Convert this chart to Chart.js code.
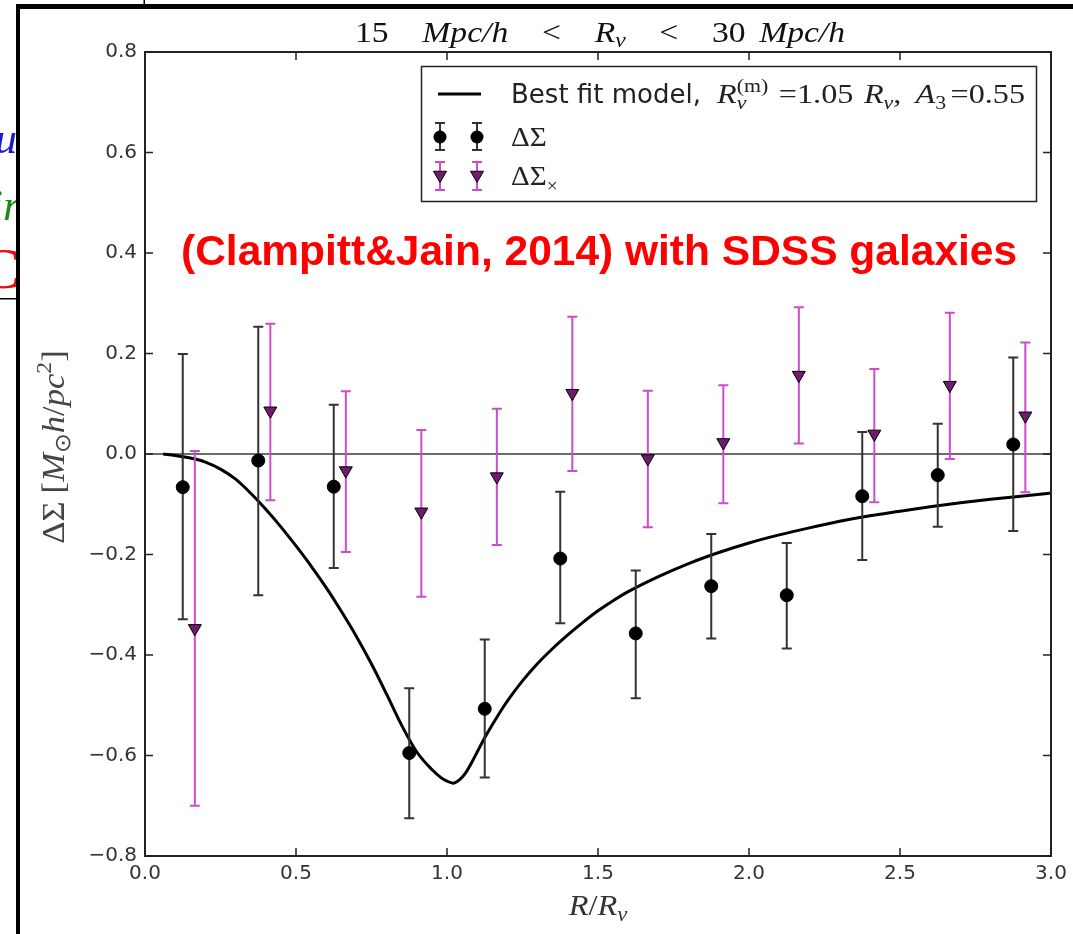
<!DOCTYPE html>
<html><head><meta charset="utf-8">
<script src="https://cdn.jsdelivr.net/npm/chart.js@4.4.1/dist/chart.umd.min.js"></script>
<style>html,body{margin:0;padding:0;background:#fff;overflow:hidden}canvas{display:block}</style>
</head><body>
<canvas id="c" width="1073" height="934"></canvas>
<script>
// ---------- data ----------
const xTickLabels = ['0.0','0.5','1.0','1.5','2.0','2.5','3.0'];
const yTickLabels = ['\u22120.8','\u22120.6','\u22120.4','\u22120.2','0.0','0.2','0.4','0.6','0.8'];

const binR   = [0.125,0.375,0.625,0.875,1.125,1.375,1.625,1.875,2.125,2.375,2.625,2.875];
const deltaSigma = [-0.066,-0.013,-0.065,-0.595,-0.507,-0.208,-0.357,-0.263,-0.281,-0.084,-0.042,0.019];
const dsLow  = [-0.329,-0.281,-0.227,-0.725,-0.644,-0.337,-0.486,-0.367,-0.387,-0.211,-0.145,-0.153];
const dsHigh = [0.199,0.253,0.098,-0.466,-0.369,-0.075,-0.232,-0.159,-0.177,0.044,0.060,0.192];

const crossR = [0.165,0.415,0.665,0.915,1.165,1.415,1.665,1.915,2.165,2.415,2.665,2.915];
const dsCross   = [-0.347,0.086,-0.033,-0.115,-0.045,0.121,-0.009,0.023,0.157,0.040,0.137,0.076];
const crossLow  = [-0.700,-0.092,-0.195,-0.284,-0.181,-0.034,-0.146,-0.098,0.021,-0.096,-0.010,-0.076];
const crossHigh = [0.006,0.259,0.125,0.048,0.090,0.273,0.126,0.137,0.292,0.169,0.281,0.222];

const modelR = [0.06,0.1,0.15,0.2,0.25,0.3,0.35,0.4,0.45,0.5,0.55,0.6,0.65,0.7,0.75,0.8,0.85,0.9,0.95,0.98,1.0,1.02,1.04,1.06,1.08,1.1,1.12,1.15,1.186,1.22,1.252,1.3,1.35,1.4,1.45,1.5,1.55,1.6,1.7,1.8,1.9,2.0,2.1,2.2,2.3,2.4,2.5,2.6,2.7,2.8,2.9,3.0];
const modelDS = [0.0,-0.003,-0.008,-0.016,-0.03,-0.05,-0.078,-0.11,-0.145,-0.183,-0.223,-0.266,-0.313,-0.363,-0.418,-0.478,-0.54,-0.593,-0.628,-0.644,-0.651,-0.655,-0.649,-0.636,-0.616,-0.593,-0.57,-0.539,-0.504,-0.475,-0.45,-0.417,-0.387,-0.36,-0.335,-0.312,-0.292,-0.274,-0.244,-0.218,-0.196,-0.177,-0.161,-0.147,-0.134,-0.123,-0.114,-0.105,-0.097,-0.09,-0.084,-0.078];

const zeroLineR = [0, 3];
const zeroLineDS = [0, 0];

const titleText = ['15','Mpc/h','<','R','v','<','30','Mpc/h'];
const annotation = '(Clampitt&Jain, 2014) with SDSS galaxies';
const legendLabels = ['Best fit model,', '\u0394\u03A3', '\u0394\u03A3'];

// ---------- styles ----------
const SERIF = '"Liberation Serif", "DejaVu Serif", serif';
const SANS = '"DejaVu Sans", sans-serif';
const F = (size, it) => (it ? 'italic ' : '') + size + 'px ' + SERIF;
const BAR_BLACK = '#333333';
const BAR_MAG = '#cc4ccc';
const TRI_FILL = '#701a70';

function pts(xs, ys) { return xs.map((x, i) => ({x: x, y: ys[i]})); }

// rich text: segments with fonts, baseline shifts, stacked sub/sup, weighted gaps, glyph x-stretch k
function rich(ctx, segs, x, y, opt) {
  opt = opt || {};
  const k = opt.k || 1;
  segs.forEach(s => { if (s.gap == null) { ctx.font = s.f; s.w = ctx.measureText(s.t).width * k; } });
  function layout(unit) {
    let cx = 0, ps = 0, pe = 0; const pos = [];
    segs.forEach(s => {
      if (s.gap != null) { cx += s.gap * unit; return; }
      const start = s.stack ? ps : cx;
      pos.push({s: s, x: start});
      const end = start + s.w;
      if (s.stack) { cx = Math.max(pe, end); pe = cx; } else { cx = end; pe = end; }
      ps = start;
    });
    return {pos: pos, width: cx};
  }
  let unit = opt.unit || 1;
  if (opt.width) {
    const w0 = layout(0).width;
    const G = segs.reduce((a, s) => a + (s.gap != null ? s.gap : 0), 0);
    unit = G > 0 ? Math.max(0, (opt.width - w0) / G) : 0;
  }
  const L = layout(unit);
  let x0 = x;
  if (opt.align === 'center') x0 = x - L.width / 2;
  else if (opt.align === 'right') x0 = x - L.width;
  ctx.textAlign = 'left';
  ctx.textBaseline = 'alphabetic';
  L.pos.forEach(p => {
    ctx.save();
    ctx.font = p.s.f;
    ctx.translate(x0 + p.x, y + (p.s.dy || 0));
    ctx.scale(k, 1);
    ctx.fillText(p.s.t, 0, 0);
    ctx.restore();
  });
}

function errBar(ctx, x, yTop, yBot, color, lw, cap) {
  ctx.save();
  ctx.strokeStyle = color; ctx.lineWidth = lw; ctx.lineCap = 'butt';
  ctx.beginPath();
  ctx.moveTo(x, yTop); ctx.lineTo(x, yBot);
  ctx.moveTo(x - cap, yTop); ctx.lineTo(x + cap, yTop);
  ctx.moveTo(x - cap, yBot); ctx.lineTo(x + cap, yBot);
  ctx.stroke();
  ctx.restore();
}

function triDown(ctx, x, y, r, fill) {
  ctx.save();
  ctx.beginPath();
  ctx.moveTo(x, y + r);
  ctx.lineTo(x - r * Math.sin(Math.PI / 3), y - r / 2);
  ctx.lineTo(x + r * Math.sin(Math.PI / 3), y - r / 2);
  ctx.closePath();
  ctx.fillStyle = fill; ctx.fill();
  ctx.strokeStyle = '#000'; ctx.lineWidth = 1; ctx.stroke();
  ctx.restore();
}

const errorBarPlugin = {
  id: 'errorBars',
  beforeDatasetDraw(chart, args) {
    const ds = chart.data.datasets[args.index];
    if (!ds.errLow) return;
    const ctx = chart.ctx, xs = chart.scales.x, ys = chart.scales.y;
    ctx.save();
    ctx.beginPath();
    const ca = chart.chartArea;
    ctx.rect(ca.left, ca.top, ca.right - ca.left, ca.bottom - ca.top);
    ctx.clip();
    ds.data.forEach((p, i) => {
      errBar(ctx, xs.getPixelForValue(p.x), ys.getPixelForValue(ds.errHigh[i]), ys.getPixelForValue(ds.errLow[i]), ds.errColor, 2, 5);
    });
    ctx.restore();
  }
};

const decorPlugin = {
  id: 'decor',
  afterDraw(chart) {
    const ctx = chart.ctx, ca = chart.chartArea, xs = chart.scales.x, ys = chart.scales.y;
    ctx.save();
    // axes frame
    ctx.strokeStyle = '#222'; ctx.lineWidth = 2;
    ctx.strokeRect(ca.left, ca.top, ca.right - ca.left, ca.bottom - ca.top);
    // inward ticks on all four sides
    ctx.lineWidth = 1.5; ctx.beginPath();
    xs.ticks.forEach(t => {
      const px = xs.getPixelForValue(t.value);
      ctx.moveTo(px, ca.bottom); ctx.lineTo(px, ca.bottom - 8);
      ctx.moveTo(px, ca.top); ctx.lineTo(px, ca.top + 8);
    });
    ys.ticks.forEach(t => {
      const py = ys.getPixelForValue(t.value);
      ctx.moveTo(ca.left, py); ctx.lineTo(ca.left + 8, py);
      ctx.moveTo(ca.right, py); ctx.lineTo(ca.right - 8, py);
    });
    ctx.stroke();

    // title
    ctx.fillStyle = '#111';
    rich(ctx, [
      {t: titleText[0], f: F(30)}, {gap: 2},
      {t: titleText[1], f: F(30, 1)}, {gap: 2},
      {t: titleText[2], f: F(30)}, {gap: 2},
      {t: titleText[3], f: F(30, 1)}, {t: titleText[4], f: F(21, 1), dy: 5}, {gap: 2},
      {t: titleText[5], f: F(30)}, {gap: 2},
      {t: titleText[6], f: F(30)}, {gap: 0.8},
      {t: titleText[7], f: F(30, 1)}
    ], 600, 42, {align: 'center', width: 490, k: 1.12});

    // x axis title
    ctx.fillStyle = '#333';
    rich(ctx, [
      {t: 'R', f: F(30, 1)}, {t: '/', f: F(30)}, {t: 'R', f: F(30, 1)}, {t: 'v', f: F(21, 1), dy: 6}
    ], 598, 915, {align: 'center', k: 1.08});

    // y axis title (rotated)
    ctx.save();
    ctx.translate(64, 447);
    ctx.rotate(-Math.PI / 2);
    ctx.fillStyle = '#444';
    rich(ctx, [
      {t: '\u0394\u03A3', f: F(32)}, {gap: 8},
      {t: '[', f: F(32)}, {t: 'M', f: F(32, 1)}, {t: '\u2299', f: '22px "DejaVu Sans"', dy: 6},
      {t: 'h', f: F(32, 1)}, {t: '/', f: F(32)}, {t: 'pc', f: F(32, 1)},
      {t: '2', f: F(22), dy: -13}, {t: ']', f: F(32)}
    ], 0, 0, {align: 'center', k: 1.08});
    ctx.restore();

    // legend
    const lx = 421.5, ly = 66.5, lw = 615, lh = 135;
    ctx.fillStyle = '#fff'; ctx.fillRect(lx, ly, lw, lh);
    ctx.strokeStyle = '#222'; ctx.lineWidth = 1.5; ctx.strokeRect(lx, ly, lw, lh);
    // row 1
    ctx.strokeStyle = '#000'; ctx.lineWidth = 3;
    ctx.beginPath(); ctx.moveTo(438, 94); ctx.lineTo(481, 94); ctx.stroke();
    ctx.fillStyle = '#222';
    ctx.font = '26px ' + SANS; ctx.textAlign = 'left'; ctx.textBaseline = 'alphabetic';
    ctx.fillText(legendLabels[0], 511, 103);
    rich(ctx, [
      {t: 'R', f: F(28, 1)}, {t: '(m)', f: F(19), dy: -11}, {t: 'v', f: F(19, 1), dy: 6, stack: true}, {gap: 1.2},
      {t: '=', f: F(28)}, {t: '1.05', f: F(28)}, {gap: 1.2},
      {t: 'R', f: F(28, 1)}, {t: 'v', f: F(19, 1), dy: 6}, {t: ',', f: F(28)}, {gap: 1.6},
      {t: 'A', f: F(28, 1)}, {t: '3', f: F(19), dy: 6}, {gap: 0.5},
      {t: '=', f: F(28)}, {t: '0.55', f: F(28)}
    ], 717, 103, {width: 308, k: 1.15});
    // row 2
    [440, 477].forEach(x => {
      errBar(ctx, x, 123, 150, BAR_BLACK, 2, 5);
      ctx.beginPath(); ctx.arc(x, 137, 6.5, 0, Math.PI * 2); ctx.fillStyle = '#000'; ctx.fill();
    });
    ctx.fillStyle = '#222';
    rich(ctx, [{t: legendLabels[1], f: F(27)}], 511, 146, {k: 1.08});
    // row 3
    [440, 477].forEach(x => {
      errBar(ctx, x, 162, 190, BAR_MAG, 2, 5);
      triDown(ctx, x, 175, 7.5, TRI_FILL);
    });
    ctx.fillStyle = '#222';
    rich(ctx, [{t: legendLabels[2], f: F(27)}, {t: '\u00D7', f: F(18), dy: 7}], 511, 185, {k: 1.08});

    // red annotation
    ctx.fillStyle = '#ff0000';
    ctx.font = 'bold 42.5px "Liberation Sans", Arial, sans-serif';
    ctx.textAlign = 'left'; ctx.textBaseline = 'alphabetic';
    ctx.fillText(annotation, 181, 265);

    // outer frame of the clipped figure
    ctx.fillStyle = '#000';
    ctx.fillRect(16, 4, 1057, 5);
    ctx.fillRect(16, 4, 4, 930);
    ctx.fillRect(143.5, 0, 1.5, 5);
    ctx.fillRect(0, 298, 16, 1.5);
    // fragments of neighbouring text
    ctx.beginPath(); ctx.rect(0, 0, 16, 934); ctx.clip();
    ctx.textAlign = 'right';
    ctx.fillStyle = '#1a1ad0'; ctx.font = 'italic 44px ' + SERIF; ctx.fillText('u', 17, 153);
    ctx.fillStyle = '#1a8a1a'; ctx.fillText('ir', 20, 220);
    ctx.fillStyle = '#e01010'; ctx.font = '58px ' + SERIF; ctx.fillText('C', 20, 288);
    ctx.restore();
  }
};

new Chart(document.getElementById('c'), {
  type: 'scatter',
  data: {
    datasets: [
      {
        label: 'deltaSigma', data: pts(binR, deltaSigma), order: 0,
        errLow: dsLow, errHigh: dsHigh, errColor: BAR_BLACK,
        pointStyle: 'circle', pointRadius: 6.5, backgroundColor: '#000', borderColor: '#000', borderWidth: 1
      },
      {
        label: 'deltaSigmaCross', data: pts(crossR, dsCross), order: 1,
        errLow: crossLow, errHigh: crossHigh, errColor: BAR_MAG,
        pointStyle: 'triangle', rotation: 180, pointRadius: 7.5, backgroundColor: TRI_FILL, borderColor: '#000', borderWidth: 1
      },
      {
        label: 'model', data: pts(modelR, modelDS), order: 2, showLine: true,
        borderColor: '#000', borderWidth: 3, pointRadius: 0, cubicInterpolationMode: 'monotone'
      },
      {
        label: 'zero', data: pts(zeroLineR, zeroLineDS), order: 3, showLine: true,
        borderColor: '#3a3a3a', borderWidth: 1.6, pointRadius: 0
      }
    ]
  },
  options: {
    responsive: false, animation: false, devicePixelRatio: 1, events: [],
    layout: {padding: {top: 52, right: 22, left: 0, bottom: 0}},
    plugins: {legend: {display: false}, tooltip: {enabled: false}, title: {display: false}},
    scales: {
      x: {
        type: 'linear', min: 0, max: 3,
        grid: {display: false, drawTicks: false}, border: {display: false},
        ticks: {stepSize: 0.5, padding: 6, color: '#333', font: {family: 'DejaVu Sans', size: 20},
          callback: (v, i) => xTickLabels[i], maxRotation: 0, autoSkip: false},
        afterFit: s => { s.height = 78; }
      },
      y: {
        type: 'linear', min: -0.8, max: 0.8,
        grid: {display: false, drawTicks: false}, border: {display: false},
        ticks: {stepSize: 0.2, padding: 8, color: '#333', font: {family: 'DejaVu Sans', size: 20},
          callback: (v, i) => yTickLabels[i], autoSkip: false},
        afterFit: s => { s.width = 145; }
      }
    }
  },
  plugins: [errorBarPlugin, decorPlugin]
});
</script>
</body></html>
